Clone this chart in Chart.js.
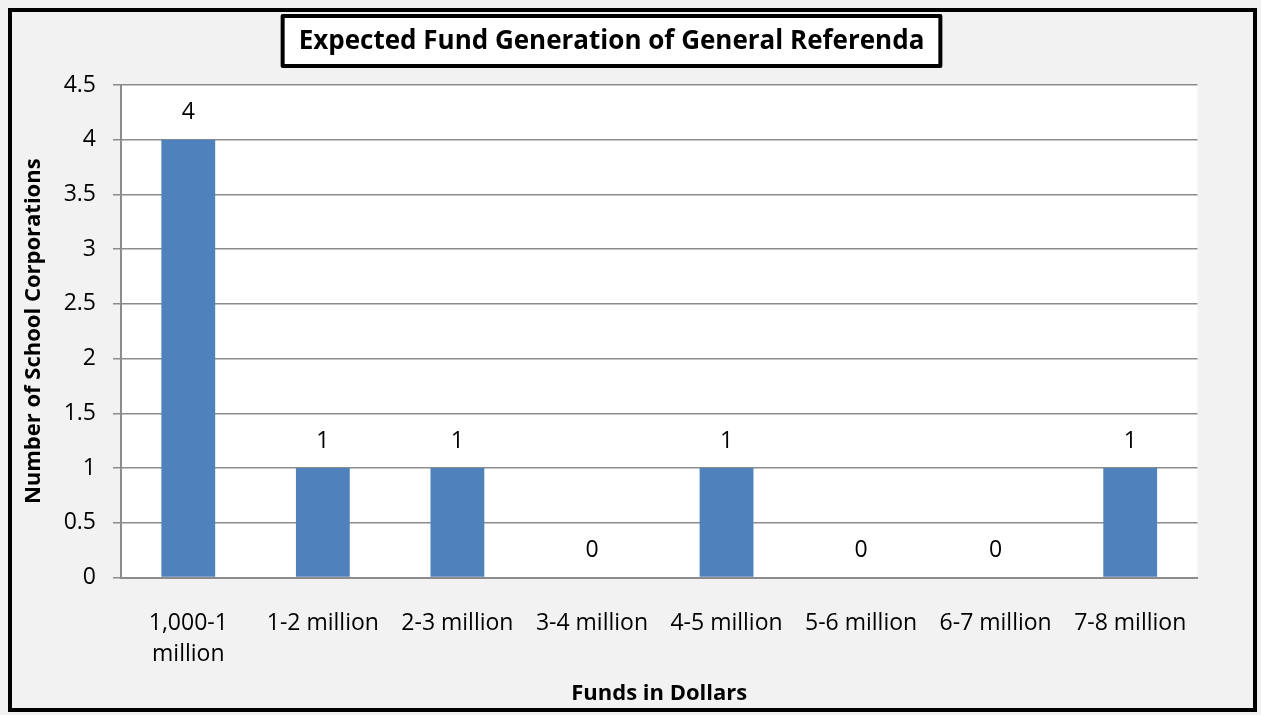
<!DOCTYPE html>
<html lang="en">
<head>
<meta charset="UTF-8">
<title>Expected Fund Generation of General Referenda</title>
<script src="https://cdn.jsdelivr.net/npm/chart.js@4.4.1/dist/chart.umd.min.js"></script>
<style>
  html, body { margin: 0; padding: 0; background: #f2f2f2; }
  #wrap { width: 1261px; height: 715px; }
</style>
</head>
<body>
<div id="wrap"><canvas id="fundsChart" width="1261" height="715"></canvas></div>
<script>
// Dati del grafico: fasce di finanziamento e numero di corporazioni scolastiche
const titleText = 'Expected Fund Generation of General Referenda';
const categories = [
    ['1,000-1', 'million'],
    '1-2 million',
    '2-3 million',
    '3-4 million',
    '4-5 million',
    '5-6 million',
    '6-7 million',
    '7-8 million'
];
const schoolCorporations = [4, 1, 1, 0, 1, 0, 0, 1];
const yMax = 4.5;
const yStep = 0.5;
const xAxisTitle = 'Funds in Dollars';
const yAxisTitle = 'Number of School Corporations';

const fontFamily = "'Open Sans', 'Noto Sans', sans-serif";
const barColor = '#4f81bd';
const gridColor = '#8c8c8c';

// Sfondo grigio, area del grafico bianca, cornice e riquadro del titolo
const framePlugin = {
    id: 'frame',
    beforeDraw(chart) {
        const { ctx, chartArea: a } = chart;
        ctx.save();
        ctx.fillStyle = '#f2f2f2';
        ctx.fillRect(0, 0, chart.width, chart.height);
        ctx.fillStyle = '#ffffff';
        ctx.fillRect(a.left, a.top, a.right - a.left, a.bottom - a.top);
        ctx.restore();
    },
    afterDraw(chart) {
        const { ctx } = chart;
        ctx.save();
        // cornice esterna
        ctx.lineWidth = 4;
        ctx.strokeStyle = '#000';
        ctx.strokeRect(10, 10, chart.width - 16, chart.height - 15);

        // titolo dentro un riquadro bianco bordato di nero
        ctx.font = 'bold 26px ' + fontFamily;
        const w = ctx.measureText(titleText).width;
        const cx = 611.5, cy = 41;
        const boxW = w + 32, boxH = 50;
        ctx.lineJoin = 'round';
        ctx.fillStyle = '#fff';
        ctx.fillRect(cx - boxW / 2, cy - boxH / 2, boxW, boxH);
        ctx.strokeRect(cx - boxW / 2, cy - boxH / 2, boxW, boxH);
        ctx.fillStyle = '#000';
        ctx.textAlign = 'center';
        ctx.textBaseline = 'middle';
        ctx.fillText(titleText, cx, cy + 1);
        ctx.restore();
    }
};

// Etichette con il valore sopra ogni barra
const valueLabels = {
    id: 'valueLabels',
    afterDatasetsDraw(chart) {
        const { ctx } = chart;
        const meta = chart.getDatasetMeta(0);
        ctx.save();
        ctx.font = '23px ' + fontFamily;
        ctx.fillStyle = '#000';
        ctx.textAlign = 'center';
        ctx.textBaseline = 'middle';
        meta.data.forEach((bar, i) => {
            ctx.fillText(String(schoolCorporations[i]), bar.x, bar.y - 27);
        });
        ctx.restore();
    }
};

new Chart(document.getElementById('fundsChart'), {
    type: 'bar',
    data: {
        labels: categories,
        datasets: [{
            label: 'Number of School Corporations',
            data: schoolCorporations,
            backgroundColor: barColor,
            borderWidth: 0,
            barPercentage: 0.4,
            categoryPercentage: 1
        }]
    },
    options: {
        responsive: false,
        animation: false,
        devicePixelRatio: 1,
        layout: { padding: { left: 14, right: 63.5, top: 85, bottom: 8 } },
        plugins: {
            legend: { display: false },
            title: { display: false },
            tooltip: { enabled: false }
        },
        scales: {
            x: {
                grid: { display: false, drawTicks: false },
                border: { display: true, color: gridColor, width: 2 },
                ticks: {
                    color: '#000',
                    padding: 30.5,
                    maxRotation: 0,
                    autoSkip: false,
                    font: { family: fontFamily, size: 23, lineHeight: 1.35 }
                },
                title: {
                    display: true,
                    text: xAxisTitle,
                    color: '#000',
                    padding: { top: 0, bottom: 0 },
                    font: { family: fontFamily, size: 22, weight: 'bold', lineHeight: 1.25 }
                },
                afterFit: s => { s.height = 129.5; }
            },
            y: {
                min: 0,
                max: yMax,
                ticks: {
                    stepSize: yStep,
                    color: '#000',
                    padding: 17,
                    font: { family: fontFamily, size: 23 },
                    callback: v => String(v)
                },
                grid: { color: gridColor, lineWidth: 1.5, tickLength: 8 },
                border: { color: gridColor, width: 2 },
                title: {
                    display: true,
                    text: yAxisTitle,
                    color: '#000',
                    padding: { top: 6, bottom: 0 },
                    font: { family: fontFamily, size: 22, weight: 'bold', lineHeight: 1.25 }
                },
                afterFit: s => { s.width = 107; }
            }
        }
    },
    plugins: [framePlugin, valueLabels]
});
</script>
</body>
</html>
